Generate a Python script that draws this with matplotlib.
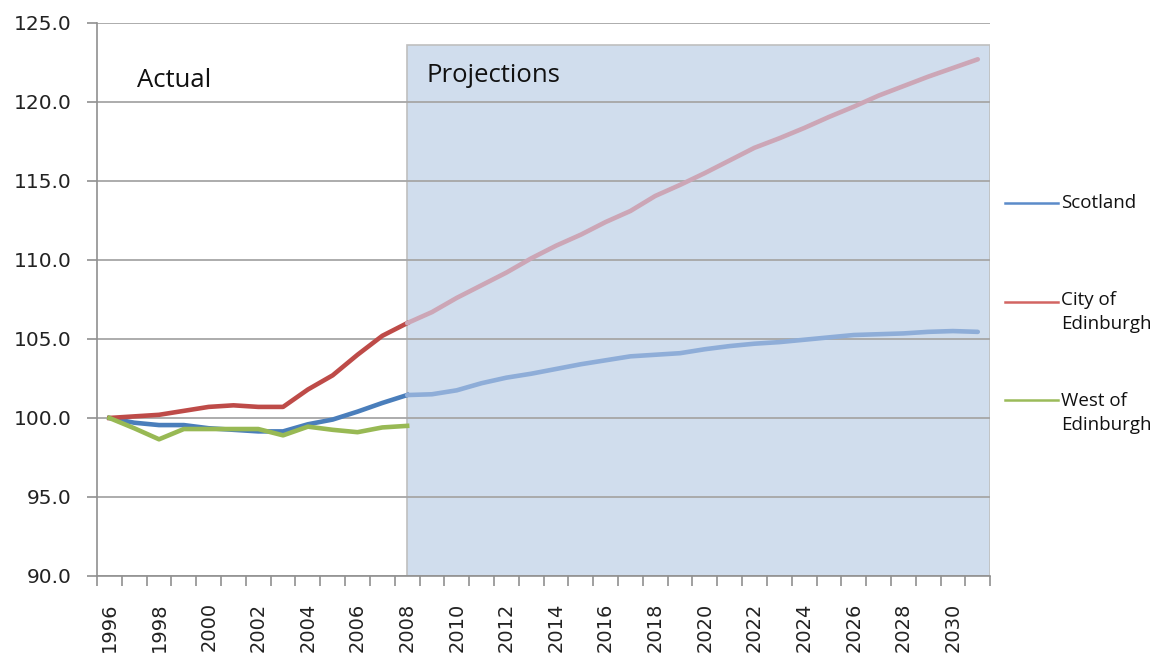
import numpy as np
import matplotlib.pyplot as plt

# Index (1996 = 100)
years_actual = list(range(1996, 2009))
years_proj = list(range(2008, 2032))

scotland_actual = [100.0, 99.7, 99.55, 99.55, 99.35, 99.25, 99.15, 99.15, 99.6, 99.9, 100.4, 100.95, 101.45]
city_actual = [100.0, 100.1, 100.2, 100.45, 100.7, 100.8, 100.7, 100.7, 101.8, 102.7, 104.0, 105.2, 106.0]
west_actual = [100.0, 99.35, 98.65, 99.3, 99.3, 99.3, 99.3, 98.9, 99.45, 99.25, 99.1, 99.4, 99.5]

scotland_proj = [101.45, 101.5, 101.75, 102.2, 102.55, 102.8, 103.1, 103.4, 103.65, 103.9, 104.0, 104.1,
                 104.35, 104.55, 104.7, 104.8, 104.95, 105.1, 105.25, 105.3, 105.35, 105.45, 105.5, 105.45]
city_proj = [106.0, 106.7, 107.6, 108.4, 109.2, 110.1, 110.9, 111.6, 112.4, 113.1, 114.05, 114.75,
             115.5, 116.3, 117.1, 117.7, 118.35, 119.05, 119.7, 120.4, 121.0, 121.6, 122.15, 122.7]

labels = ['Scotland', 'City of\nEdinburgh', 'West of\nEdinburgh']
shade_top = 123.6

plt.rcParams['font.family'] = ['DejaVu Sans']
fig = plt.figure(figsize=(11.63, 6.56), dpi=100)
ax = fig.add_axes([0.0834, 0.122, 0.768, 0.843])

c_blue, c_red, c_green = '#4A7EBB', '#BE4B48', '#98B954'

# zona de proyecciones
ax.axvspan(2008, 2031.5, ymin=0, ymax=(shade_top - 90) / 35, facecolor='#D0DDED',
           edgecolor='#BFBFBF', lw=1.2, zorder=1)

ax.plot(years_actual, scotland_actual, color=c_blue, lw=3.3, zorder=3)
ax.plot(years_actual, city_actual, color=c_red, lw=3.3, zorder=3)
ax.plot(years_actual, west_actual, color=c_green, lw=3.3, zorder=3)
ax.plot(years_proj, scotland_proj, color='#8EADD8', lw=3.3, zorder=3, solid_capstyle='round')
ax.plot(years_proj, city_proj, color='#CCA6B6', lw=3.3, zorder=3, solid_capstyle='round')

ax.set_xlim(1995.5, 2031.5)
ax.set_ylim(90, 125)
yt = np.arange(90, 126, 5)
ax.set_yticks(yt)
ax.set_yticklabels([f'{v:.1f}' for v in yt], fontsize=14.5, color='#222222')
xt = list(range(1996, 2031, 2))
ax.set_xticks(xt)
ax.set_xticklabels([str(y) for y in xt], rotation=90, fontsize=14, color='#222222')
ax.set_xticks(np.arange(1995.5, 2032, 1), minor=True)
ax.tick_params(axis='x', which='major', length=0, pad=19)
ax.tick_params(axis='x', which='minor', length=7.5, color='#909090', width=1.2)
ax.tick_params(axis='y', length=7.5, color='#909090', width=1.2, pad=10.5)

ax.set_axisbelow('line')
ax.yaxis.grid(True, color='#A6A6A6', lw=1.3, zorder=2)
for s in ['top', 'right']:
    ax.spines[s].set_visible(False)
for s in ['left', 'bottom']:
    ax.spines[s].set_color('#909090')
    ax.spines[s].set_linewidth(1.2)

ax.text(1997.12, 120.95, 'Actual', fontsize=18.5, family='Open Sans', va='baseline', color='#111111')
ax.text(2008.8, 121.27, 'Projections', fontsize=18.5, family='Open Sans', va='baseline', color='#111111')

# leyenda a la derecha
leg_colors = ['#5B8BC9', '#D26562', '#9BBB59']
leg_y = [203, 302, 400]
txt_y = [203, 312, 413]
for col, ly, ty, lab in zip(leg_colors, leg_y, txt_y, labels):
    fig.add_artist(plt.Line2D([1005 / 1163, 1058 / 1163], [1 - ly / 656] * 2, color=col, lw=1.8))
    fig.text(1061 / 1163, 1 - ty / 656, lab, family='Open Sans', fontsize=13.5, va='center',
             ha='left', linespacing=1.4, color='#111111')

fig.savefig('out.png', dpi=100)
